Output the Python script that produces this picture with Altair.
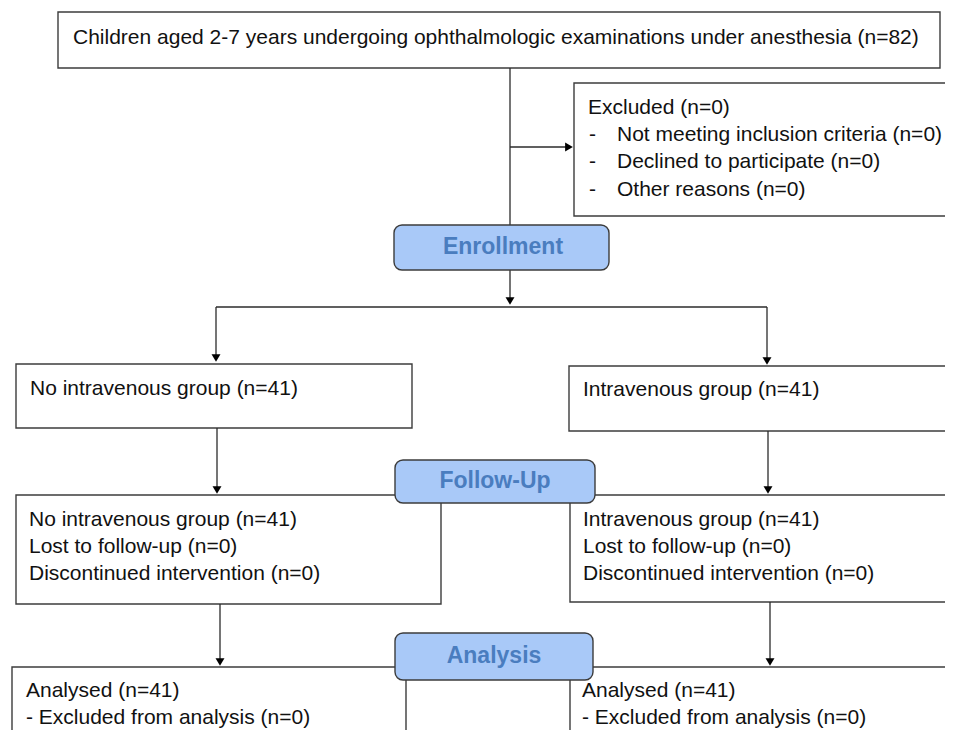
import altair as alt
import pandas as pd

# ---------------- data ----------------
# boxes (image pixel coordinates)
box_x1 = [58, 574, 16, 569, 16, 570, 12, 570]
box_x2 = [940, 975, 412, 975, 441, 975, 406, 975]
box_y1 = [12, 83, 364, 366, 495, 495, 667, 667]
box_y2 = [68, 216, 428, 431, 604, 602, 760, 760]

# stage pills
pill_labels = ["Enrollment", "Follow-Up", "Analysis"]
pill_x1 = [394, 395, 395]
pill_x2 = [609, 595, 593]
pill_y1 = [225, 460, 633]
pill_y2 = [270, 503, 680]
pill_tx = [503, 495, 494]
pill_ty = [247, 481, 656]

# connector lines
line_x1 = [510, 510, 510, 216, 216, 767, 217, 768, 220, 770]
line_y1 = [68, 147, 270, 307, 307, 307, 428, 431, 604, 602]
line_x2 = [510, 568, 510, 767, 216, 767, 217, 768, 220, 770]
line_y2 = [225, 147, 300, 307, 357, 360, 488, 488, 660, 660]

# arrow heads
head_x = [510, 216, 767, 217, 768, 220, 770]
head_y = [301, 358, 361, 490, 490, 662, 662]
headr_x = [569]
headr_y = [147]

# text lines
txt = [
    "Children aged 2-7 years undergoing ophthalmologic examinations under anesthesia (n=82)",
    "Excluded (n=0)",
    "-", "Not meeting inclusion criteria (n=0)",
    "-", "Declined to participate (n=0)",
    "-", "Other reasons (n=0)",
    "No intravenous group (n=41)",
    "Intravenous group (n=41)",
    "No intravenous group (n=41)", "Lost to follow-up (n=0)", "Discontinued intervention (n=0)",
    "Intravenous group (n=41)", "Lost to follow-up (n=0)", "Discontinued intervention (n=0)",
    "Analysed (n=41)", "- Excluded from analysis (n=0)",
    "Analysed (n=41)", "- Excluded from analysis (n=0)",
]
txt_x = [73, 588, 589, 617, 589, 617, 589, 617, 30, 583,
         29, 29, 29, 583, 583, 583, 26, 26, 582, 582]
txt_y = [38, 108, 135, 135, 162, 162, 190, 190, 389, 390,
         520, 547, 574, 520, 547, 574, 691, 718, 691, 718]

# ---------------- chart ----------------
xs = alt.Scale(domain=[8, 945], nice=False, zero=False)
ys = alt.Scale(domain=[8, 730], nice=False, zero=False, reverse=True)

boxes = pd.DataFrame({"x1": box_x1, "x2": box_x2, "y1": box_y1, "y2": box_y2})
pills = pd.DataFrame({"label": pill_labels, "x1": pill_x1, "x2": pill_x2,
                      "y1": pill_y1, "y2": pill_y2, "tx": pill_tx, "ty": pill_ty})
lines = pd.DataFrame({"x1": line_x1, "x2": line_x2, "y1": line_y1, "y2": line_y2})
heads = pd.DataFrame({"x": head_x, "y": head_y})
headsr = pd.DataFrame({"x": headr_x, "y": headr_y})
texts = pd.DataFrame({"t": txt, "x": txt_x, "y": txt_y})

line_color = "#2b2b2b"

box_layer = alt.Chart(boxes).mark_rect(
    fill="white", stroke="#3c3c3c", strokeWidth=1.4
).encode(
    x=alt.X("x1:Q", scale=xs, axis=None), x2="x2:Q",
    y=alt.Y("y1:Q", scale=ys, axis=None), y2="y2:Q",
)

line_layer = alt.Chart(lines).mark_rule(color=line_color, strokeWidth=1.3).encode(
    x=alt.X("x1:Q", scale=xs, axis=None), x2="x2:Q",
    y=alt.Y("y1:Q", scale=ys, axis=None), y2="y2:Q",
)

head_layer = alt.Chart(heads).mark_point(
    shape="triangle-down", filled=True, color="black", size=80, opacity=1
).encode(
    x=alt.X("x:Q", scale=xs, axis=None),
    y=alt.Y("y:Q", scale=ys, axis=None),
)

headr_layer = alt.Chart(headsr).mark_point(
    shape="triangle-right", filled=True, color="black", size=80, opacity=1
).encode(
    x=alt.X("x:Q", scale=xs, axis=None),
    y=alt.Y("y:Q", scale=ys, axis=None),
)

pill_layer = alt.Chart(pills).mark_rect(
    fill="#a9c9f8", stroke="#3c3c3c", strokeWidth=1.4, cornerRadius=8
).encode(
    x=alt.X("x1:Q", scale=xs, axis=None), x2="x2:Q",
    y=alt.Y("y1:Q", scale=ys, axis=None), y2="y2:Q",
)

pill_text = alt.Chart(pills).mark_text(
    font="Liberation Sans", fontSize=23, fontWeight="bold",
    color="#4a7dbf", align="center", baseline="middle"
).encode(
    x=alt.X("tx:Q", scale=xs, axis=None),
    y=alt.Y("ty:Q", scale=ys, axis=None),
    text="label:N",
)

text_layer = alt.Chart(texts).mark_text(
    font="Liberation Sans", fontSize=21, color="#111111",
    align="left", baseline="middle"
).encode(
    x=alt.X("x:Q", scale=xs, axis=None),
    y=alt.Y("y:Q", scale=ys, axis=None),
    text="t:N",
)

chart = alt.layer(
    box_layer, line_layer, head_layer, headr_layer, pill_layer, pill_text, text_layer
).properties(
    width=937, height=722, padding=0, background="white",
    autosize=alt.AutoSizeParams(type="none")
).configure_view(strokeWidth=0)

chart.save("out.html", embed_options={"renderer": "svg", "actions": False})
